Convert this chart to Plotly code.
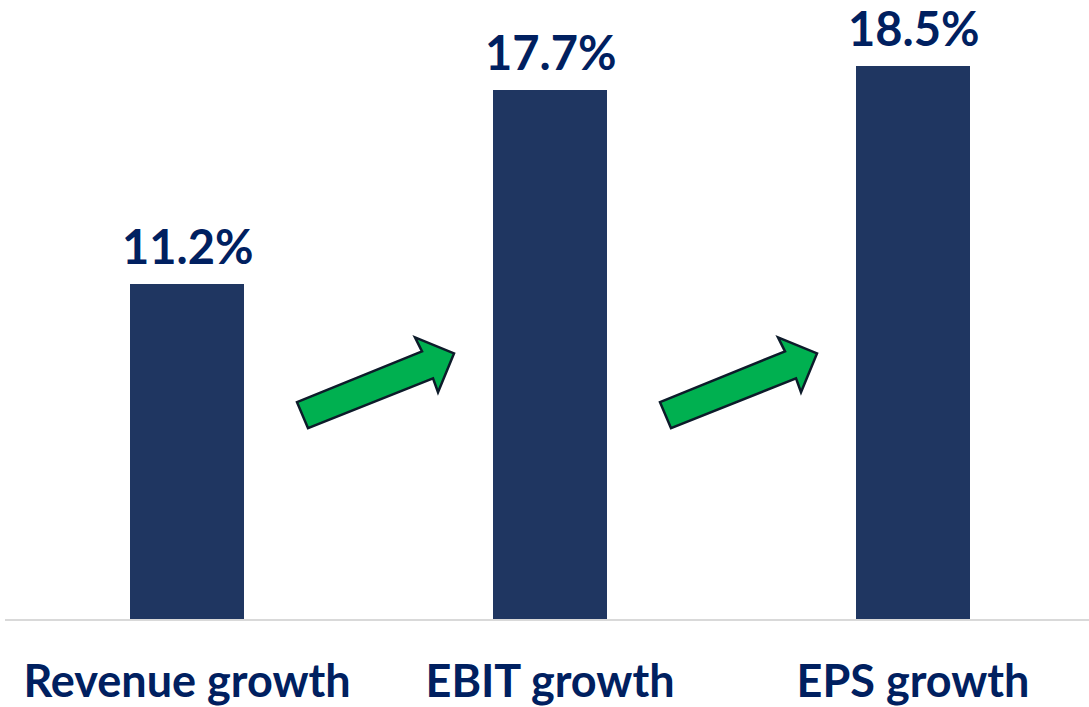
import plotly.graph_objects as go

categories = ["Revenue growth", "EBIT growth", "EPS growth"]
values = [11.2, 17.7, 18.5]
value_labels = ["11.2%", "17.7%", "18.5%"]

W, H = 1089, 707
ML, MR, MT, MB = 5, 0, 0, 86
X_RANGE = [-0.5014, 2.4848]
Y_RANGE = [0, 20.7]
px_per_x = (W - ML - MR) / (X_RANGE[1] - X_RANGE[0])
px_per_y = (H - MT - MB) / (Y_RANGE[1] - Y_RANGE[0])

BAR_COLOR = "#1F3661"
TEXT_COLOR = "#002060"
FONT = "Lato"

xs = list(range(len(categories)))

fig = go.Figure()
fig.add_trace(go.Bar(x=xs, y=values, width=0.314, marker=dict(color=BAR_COLOR, line=dict(width=0)),
                     hoverinfo="skip"))

for x, v, t in zip(xs, values, value_labels):
    fig.add_annotation(x=x, y=v, text="<b>%s</b>" % t, showarrow=False, xref="x", yref="y",
                       yanchor="bottom", yshift=9, borderpad=0,
                       font=dict(family=FONT, size=47, color=TEXT_COLOR))

# arrow template: pixel offsets relative to tail-left corner (x right, y up)
arrow_px = [(0, 0), (125, 51), (118, 65), (157, 49), (141, 10), (136, 24), (11, -26)]

def arrow_path(x0, y0):
    pts = [(x0 + dx / px_per_x, y0 + dy / px_per_y) for dx, dy in arrow_px]
    return "M " + " L ".join("%f,%f" % p for p in pts) + " Z"

for i in range(len(categories) - 1):
    x0 = xs[i] + 110 / px_per_x
    y0 = 7.25
    fig.add_shape(type="path", path=arrow_path(x0, y0), xref="x", yref="y",
                  fillcolor="#00B050", line=dict(color="#0D1B2A", width=2.5))

fig.update_layout(
    width=W, height=H,
    margin=dict(l=ML, r=MR, t=MT, b=MB),
    plot_bgcolor="white", paper_bgcolor="white",
    showlegend=False,
    bargap=0,
)
fig.update_xaxes(range=X_RANGE, tickmode="array", tickvals=xs,
                 ticktext=["<b>%s</b>" % c for c in categories],
                 tickfont=dict(family=FONT, size=45, color=TEXT_COLOR),
                 showline=True, linecolor="#D9D9D9", linewidth=2,
                 showgrid=False, zeroline=False, ticks="", ticklabelstandoff=22)
fig.update_yaxes(range=Y_RANGE, visible=False, showgrid=False, zeroline=False)

fig.write_html("out.html")
